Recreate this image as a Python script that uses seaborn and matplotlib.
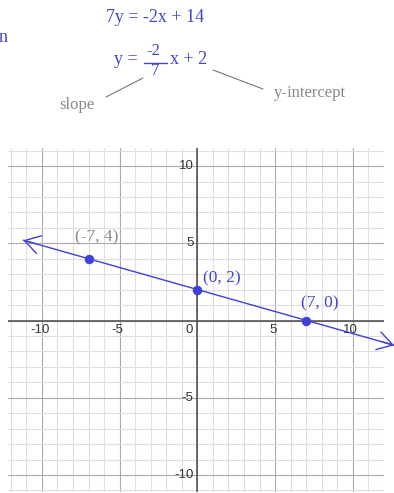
import matplotlib as mpl
mpl.use('Agg')
import matplotlib.pyplot as plt
import numpy as np
import pandas as pd
import seaborn as sns

# data
pts_x = [-7, 0, 7]
pts_y = [4, 2, 0]
pts_lab = ['(-7, 4)', '(0, 2)', '(7, 0)']
line_x = [-11.2, 12.65]
line_y = [5.2, -1.6]
xtick_vals = [-10, -5, 0, 5, 10]
ytick_vals = [10, 5, -5, -10]

W, H = 394, 493
blue = '#3f3fdc'
txt_blue = '#4343cc'
grey = '#888888'

sns.set_style('white')
plt.rcParams['font.family'] = ['Liberation Sans', 'DejaVu Sans']

fig = plt.figure(figsize=(W / 100, H / 100), dpi=100)
ax = fig.add_axes([8 / W, 1 - 492 / H, 376 / W, 344 / H])
ax.set_xlim(-12.18, 12.0)
ax.set_ylim(-11.1, 11.17)
ax.axis('off')

# grid: minor every 1, major every 5
for v in np.arange(-12, 13):
    c = '#aaaaaa' if v % 5 == 0 else '#dedede'
    ax.axvline(v, color=c, lw=0.8, zorder=0)
for v in np.arange(-11, 12):
    c = '#aaaaaa' if v % 5 == 0 else '#dedede'
    ax.axhline(v, color=c, lw=0.8, zorder=0)
ax.axhline(0, color='#555555', lw=1.2, zorder=1)
ax.axvline(0, color='#555555', lw=1.2, zorder=1)

# tick labels
for v in xtick_vals:
    off = -0.5 if v == 0 else -0.15
    ax.text(v + off, -0.25, str(v), ha='center', va='top', fontsize=9.5, color='#333333')
for v in ytick_vals:
    ax.text(-0.25, v, str(v), ha='right', va='center', fontsize=9.5, color='#333333')

# line with open arrowheads
df_line = pd.DataFrame({'x': line_x, 'y': line_y})
sns.lineplot(data=df_line, x='x', y='y', color=blue, lw=1, ax=ax, clip_on=False, zorder=3)
for i, j in [(0, 1), (1, 0)]:
    tx, ty = line_x[i], line_y[i]
    dx, dy = line_x[j] - tx, line_y[j] - ty
    n = np.hypot(dx, dy)
    ax.annotate('', xy=(tx, ty), xytext=(tx + dx / n * 0.8, ty + dy / n * 0.8),
                arrowprops=dict(arrowstyle='->,head_length=0.9,head_width=0.55',
                                color=blue, lw=1, mutation_scale=12, shrinkA=0, shrinkB=0),
                annotation_clip=False, zorder=3)

df_pts = pd.DataFrame({'x': pts_x, 'y': pts_y})
sns.scatterplot(data=df_pts, x='x', y='y', color=blue, s=40, edgecolor=blue, ax=ax, zorder=4, clip_on=False)

lab_pos = [(-6.5, 5.4, grey), (1.55, 2.75, txt_blue), (7.9, 1.1, txt_blue)]
for lab, (lx, ly, c) in zip(pts_lab, lab_pos):
    ax.text(lx, ly, lab, ha='center', va='center', fontsize=12.5, color=c, family='Liberation Serif')

# header text in pixel coordinates
def px(x, y):
    return x / W, 1 - y / H

serif = 'Liberation Serif'
fig.text(*px(155, 18), '7y = -2x + 14', ha='center', va='center', fontsize=13, color=txt_blue, family=serif)
fig.text(*px(-1, 38), 'n', ha='left', va='center', fontsize=13, color=txt_blue, family=serif)
fig.text(*px(126, 60), 'y =', ha='center', va='center', fontsize=13, color=txt_blue, family=serif)
fig.text(*px(153, 51), '-2', ha='center', va='center', fontsize=12, color=txt_blue, family=serif)
fig.text(*px(155, 71), '7', ha='center', va='center', fontsize=12, color=txt_blue, family=serif)
fig.add_artist(plt.Line2D([144 / W, 167 / W], [1 - 63 / H, 1 - 63 / H], color=txt_blue, lw=1))
fig.text(*px(189, 60), 'x + 2', ha='center', va='center', fontsize=13, color=txt_blue, family=serif)
fig.text(*px(77, 105), 'slope', ha='center', va='center', fontsize=12, color=grey, family=serif)
fig.text(*px(310, 93), 'y-intercept', ha='center', va='center', fontsize=12, color=grey, family=serif)
fig.add_artist(plt.Line2D([106 / W, 143 / W], [1 - 97 / H, 1 - 78 / H], color='#777777', lw=0.8))
fig.add_artist(plt.Line2D([213 / W, 263 / W], [1 - 70 / H, 1 - 89 / H], color='#777777', lw=0.8))

fig.savefig('out.png', dpi=100)
